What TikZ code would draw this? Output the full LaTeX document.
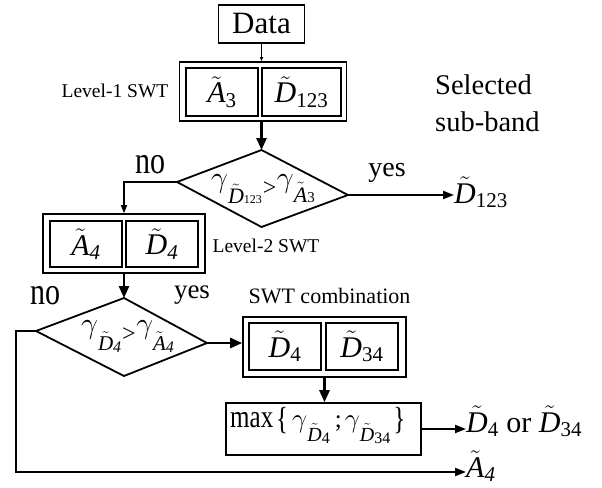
\documentclass[tikz,border=0pt]{standalone}
\usepackage{fix-cm}
\usepackage{graphicx}
\usepackage{amsmath}
\usepackage{fontspec}
\setmainfont{Liberation Serif}
\usetikzlibrary{arrows.meta}

% symbols used in the boxes and tests
\newcommand{\tA}{\tilde{\textit{A}}}
\newcommand{\tD}{\tilde{\textit{D}}}
\newcommand{\setfs}[2]{\fontsize{#1}{#2}\selectfont}
\newcommand{\tall}[1]{\scalebox{1}[1.28]{#1}}

\begin{document}
\begin{tikzpicture}[x=1pt,y=-1pt,
  frame/.style={draw, line width=1.6pt, inner sep=0pt},
  lbl/.style={inner sep=0pt},
  big/.style={font=\setfs{30}{36}},
  small/.style={font=\setfs{19.5}{23}},
  word/.style={font=\setfs{28.5}{37}},
  testline/.style={line width=1.8pt, line join=miter},
  link/.style={line width=2.6pt, -{Triangle[length=12pt,width=10pt]}},
  flow/.style={line width=2pt, -{Triangle[length=11pt,width=8pt]}},
  noflow/.style={line width=1.5pt, -{Triangle[length=8pt,width=6pt]}},
  thinlink/.style={line width=0.8pt, -{Triangle[length=4pt,width=3pt]}}]
\useasboundingbox (0,0) rectangle (602,487);

% input
\node[frame, big, minimum width=86, minimum height=38] (data) at (261.5,24) {\setfs{31}{36}Data};

% level-1 decomposition
\node[frame, minimum width=167, minimum height=59] (l1) at (263,91.5) {};
\node[frame, big, minimum width=72, minimum height=48] (l1a) at (222,92) {$\tA_{\text{3}}$};
\node[frame, big, minimum width=79, minimum height=48] (l1d) at (301.5,92) {$\tD_{\text{123}}$};
\node[lbl, small, anchor=base] (l1t) at (115,97) {Level-1 SWT};

\node[lbl, word, anchor=north west, align=left] (sel) at (435,75) {Selected\\sub-band};

% first test
\coordinate (d1t) at (261.5,150);
\coordinate (d1r) at (348,195);
\coordinate (d1b) at (261.5,227);
\coordinate (d1l) at (177,182);
\draw[testline] (d1t) -- (d1r) -- (d1b) -- (d1l) -- cycle;
\node[lbl, font=\setfs{30}{36}, anchor=base west] (d1) at (211,187)
  {$\gamma$\raisebox{-16pt}{\setfs{22}{26}$\tD$\setfs{12}{14}123}\kern1pt\raisebox{-8.5pt}{\setfs{24}{28}>}\kern0.5pt$\gamma$\raisebox{-15pt}{\setfs{22}{26}$\tA$\setfs{15}{18}3}};
\node[lbl, font=\setfs{28}{34}, anchor=base] (yes1) at (387,176) {yes};
\node[lbl, font=\setfs{30}{36}, anchor=base] (no1) at (150,173) {\tall{no}};
\node[lbl, big, anchor=base west] (o1) at (454,203) {$\tD_{\text{123}}$};

% level-2 decomposition
\node[frame, minimum width=162, minimum height=59] (l2) at (124,243.5) {};
\node[frame, big, minimum width=72, minimum height=46] (l2a) at (86,244) {$\tA_{\textit{4}}$};
\node[frame, big, minimum width=72, minimum height=46] (l2d) at (162,244) {$\tD_{\textit{4}}$};
\node[lbl, small, anchor=base] (l2t) at (266,252) {Level-2 SWT};

% second test
\coordinate (d2t) at (124,298);
\coordinate (d2r) at (207,343);
\coordinate (d2b) at (124,376);
\coordinate (d2l) at (36,331);
\draw[testline] (d2t) -- (d2r) -- (d2b) -- (d2l) -- cycle;
\node[lbl, font=\setfs{30}{36}, anchor=base west] (d2) at (81,333)
  {$\gamma$\raisebox{-17pt}{\setfs{21}{25}$\tD$\raisebox{-2pt}{\setfs{16}{18}\textit{4}}}\kern1pt\raisebox{-8pt}{\setfs{24}{28}>}\kern0.5pt$\gamma$\raisebox{-17pt}{\setfs{21}{25}$\tA$\raisebox{-2pt}{\setfs{16}{18}\textit{4}}}};
\node[lbl, font=\setfs{30}{36}, anchor=base] (no2) at (45,304) {\tall{no}};
\node[lbl, font=\setfs{27}{32}, anchor=base] (yes2) at (192,298) {yes};

% combination
\node[lbl, font=\setfs{22}{26}, anchor=base] (ct) at (329.5,303) {SWT combination};
\node[frame, minimum width=163, minimum height=60] (comb) at (324.5,347) {};
\node[frame, big, minimum width=72, minimum height=47] (cd4) at (285,346.5) {$\tD_{\text{4}}$};
\node[frame, big, minimum width=72, minimum height=47] (cd34) at (362,346.5) {$\tD_{\text{34}}$};
\node[frame, minimum width=195, minimum height=52] (mx) at (323.5,429) {};
\node[lbl, font=\setfs{25}{30}, anchor=base west] (mxt) at (230,427)
  {\tall{max}\kern3pt\raisebox{-2pt}{\tall{\{}}\kern4pt\setfs{27}{32}$\gamma$\raisebox{-14pt}{\setfs{20}{24}$\tD$\raisebox{-2pt}{\setfs{16}{18}4}}\kern5pt\setfs{25}{30};\kern3pt\setfs{27}{32}$\gamma$\raisebox{-14pt}{\setfs{20}{24}$\tD$\raisebox{-2pt}{\setfs{16}{18}34}}\kern3pt\setfs{25}{30}\raisebox{-2pt}{\tall{\}}}};
\node[lbl, big, anchor=base west] (o2) at (466,432) {$\tD_{\text{4}}$ or $\tD_{\text{34}}$};
\node[lbl, big, anchor=base west] (o3) at (466,477) {$\tA_{\textit{4}}$};
\coordinate (bl) at (16,472);

% connectors
\draw[thinlink] (data.south) -- (data.south |- l1.north);
\draw[link] (data.south |- l1.south) -- (d1t);
\draw[flow] (d1r) -- (d1r -| o1.west);
\draw[noflow] (d1l) -| (l2.north);
\draw[link] (l2.south) -- (d2t);
\draw[link] (d2r) -- (d2r -| comb.west);
\draw[link] (comb.south) -- (comb.south |- mx.north);
\draw[flow] (mx.east) -- (mx.east -| o2.west);
\draw[flow] (d2l) -| (bl) -- (bl -| o3.west);
\end{tikzpicture}
\end{document}
